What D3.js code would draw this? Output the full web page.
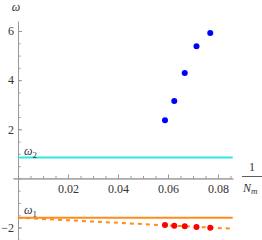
<!DOCTYPE html>
<html>
<head>
<meta charset="utf-8">
<script src="https://cdn.jsdelivr.net/npm/d3@7"></script>
<style>
body { margin: 0; background: #fff; }
text { font-family: "Liberation Serif", "DejaVu Serif", serif; fill: #333; }
</style>
</head>
<body>
<script>
// data
var invN = [0.0588, 0.0625, 0.0667, 0.0714, 0.0769];   // 1/Nm, Nm = 17..13
var upper = [2.37, 3.15, 4.29, 5.38, 5.92];
var lower = [-1.90, -1.93, -1.95, -1.98, -2.01];
var omega1 = -1.6;
var omega2 = 0.85;
var fitX = [0, 0.086];
var fitY = [-1.6, -2.05];
var xTicks = [0.02, 0.04, 0.06, 0.08];
var yTicks = [-2, 2, 4, 6];

var w = 262, h = 240;
var svg = d3.select("body").append("svg").attr("width", w).attr("height", h);

var x = d3.scaleLinear().domain([-0.002, 0.0859]).range([13, 232.75]);
var y = d3.scaleLinear().domain([-2.5, 6.4]).range([239.8, 21.2]);

var xMinor = d3.range(0.005, 0.086, 0.005);
var yMinor = d3.range(-2.5, 6.01, 0.5);

// x axis
var gx = svg.append("g").attr("transform", "translate(0," + y(0) + ")");
gx.call(d3.axisBottom(x).tickValues(xMinor).tickSize(-2.5).tickSizeOuter(0).tickFormat(""));
gx.append("g").call(d3.axisBottom(x).tickValues(xTicks).tickSize(-4).tickSizeOuter(0).tickPadding(6)
    .tickFormat(d3.format(".2f")));
gx.selectAll("path").attr("stroke", "#999");
gx.selectAll("line").attr("stroke", "#999");
gx.selectAll("text").attr("font-size", 12).attr("fill", "#333").attr("font-family", "Liberation Serif");

// y axis
var gy = svg.append("g").attr("transform", "translate(" + x(0) + ",0)");
gy.call(d3.axisLeft(y).tickValues(yMinor).tickSize(-2.5).tickSizeOuter(0).tickFormat(""));
gy.append("g").call(d3.axisLeft(y).tickValues(yTicks).tickSize(-4).tickSizeOuter(0).tickPadding(4)
    .tickFormat(function(d) { return d < 0 ? "\u2212" + (-d) : d; }));
gy.selectAll("path").attr("stroke", "#999");
gy.selectAll("line").attr("stroke", "#999");
gy.selectAll("text").attr("font-size", 12).attr("fill", "#333").attr("font-family", "Liberation Serif");

// horizontal lines
svg.append("line").attr("x1", x(0)).attr("x2", x(0.0859))
   .attr("y1", y(omega2)).attr("y2", y(omega2))
   .attr("stroke", "#33e6e6").attr("stroke-width", 2);
svg.append("line").attr("x1", x(0)).attr("x2", x(0.0859))
   .attr("y1", y(omega1)).attr("y2", y(omega1))
   .attr("stroke", "#ff8c1a").attr("stroke-width", 2);

// dashed fit
svg.append("line").attr("x1", x(fitX[0])).attr("x2", x(fitX[1]))
   .attr("y1", y(fitY[0])).attr("y2", y(fitY[1]))
   .attr("stroke", "#ff8c1a").attr("stroke-width", 2).attr("stroke-dasharray", "4,4");

// points
svg.selectAll("circle.up").data(invN).enter().append("circle")
   .attr("class", "up")
   .attr("cx", function(d) { return x(d); })
   .attr("cy", function(d, i) { return y(upper[i]); })
   .attr("r", 3).attr("fill", "#0000ff");
svg.selectAll("circle.lo").data(invN).enter().append("circle")
   .attr("class", "lo")
   .attr("cx", function(d) { return x(d); })
   .attr("cy", function(d, i) { return y(lower[i]); })
   .attr("r", 3).attr("fill", "#ff0000");

// labels
svg.append("text").attr("x", 16).attr("y", 11).attr("text-anchor", "middle")
   .attr("font-size", 12).attr("font-style", "italic").text("\u03c9");

var l2 = svg.append("text").attr("x", 24).attr("y", y(omega2) - 3).attr("font-size", 12);
l2.append("tspan").attr("font-style", "italic").text("\u03c9");
l2.append("tspan").attr("font-size", 9).attr("dy", 3).text("2");

var l1 = svg.append("text").attr("x", 24).attr("y", y(omega1) - 4).attr("font-size", 12);
l1.append("tspan").attr("font-style", "italic").text("\u03c9");
l1.append("tspan").attr("font-size", 9).attr("dy", 3).text("1");

// 1/Nm
svg.append("text").attr("x", 252).attr("y", 171).attr("text-anchor", "middle")
   .attr("font-size", 12).text("1");
svg.append("line").attr("x1", 242).attr("x2", 262).attr("y1", 176.5).attr("y2", 176.5)
   .attr("stroke", "#333").attr("stroke-width", 0.8);
var nl = svg.append("text").attr("x", 243).attr("y", 192).attr("font-size", 12).attr("font-style", "italic");
nl.append("tspan").text("N");
nl.append("tspan").attr("font-size", 9).attr("dy", 2).text("m");
</script>
</body>
</html>
